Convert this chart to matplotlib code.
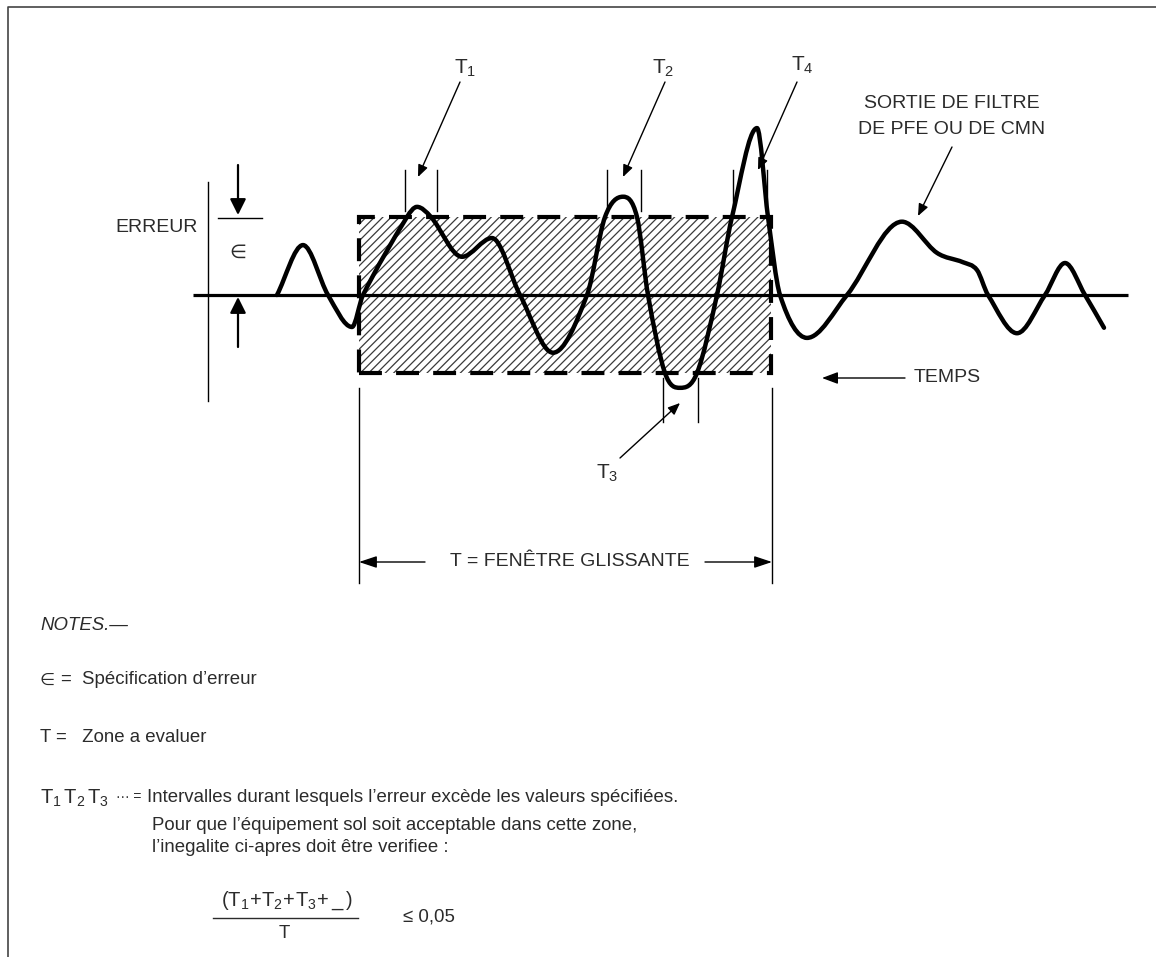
import numpy as np
import matplotlib
matplotlib.use("Agg")
import matplotlib.pyplot as plt
from matplotlib.path import Path
from matplotlib.patches import PathPatch, Rectangle

# ------------------------------------------
# fonts
# ------------------------------------------
plt.rcParams['font.family'] = ['Liberation Sans', 'DejaVu Sans']
plt.rcParams['mathtext.fontset'] = 'custom'
plt.rcParams['mathtext.rm'] = 'Liberation Sans'
plt.rcParams['mathtext.it'] = 'Liberation Sans:italic'
plt.rcParams['hatch.linewidth'] = 0.9
NOTE = ['Liberation Sans', 'DejaVu Sans']
TXT = '#2b2b2b'

# ------------------------------------------
# data : filter output (time, error in units of epsilon)
# ------------------------------------------
t_curve = [277, 303, 328, 352, 363, 407, 417, 431, 462, 492, 520, 553, 587,
           605, 623, 637, 648, 665, 680, 697, 717, 732, 757, 768, 780, 807,
           847, 902, 937, 963, 977, 988, 1017, 1045, 1065, 1085, 1104]
err_curve = [0.0, 0.64, 0.0, -0.41, 0.0, 1.0, 1.13, 1.0, 0.49, 0.73, 0.0, -0.74, 0.0,
             1.0, 1.26, 1.0, 0.0, -1.0, -1.19, -1.0, 0.0, 1.0, 2.14, 1.0, 0.0, -0.55,
             0.0, 0.94, 0.54, 0.42, 0.32, 0.0, -0.49, 0.0, 0.41, 0.0, -0.42]

eps = 1.0
window = [359, 771]          # sliding window T
baseline_t = [193, 1128]
# intervals where error exceeds epsilon
intervals = {'1': (405, 437), '2': (607, 641), '3': (663, 698), '4': (733, 767)}

# ------------------------------------------
# figure
# ------------------------------------------
W, H = 1156, 957
BASE_PX, EPS_PX = 295, 78
fig = plt.figure(figsize=(W / 100, H / 100), dpi=100)
ax = fig.add_axes([0, 0, 1, 1])
ax.set_xlim(0, W)
ax.set_ylim((BASE_PX - H) / EPS_PX, BASE_PX / EPS_PX)
ax.axis('off')
lay = fig.add_axes([0, 0, 1, 1], zorder=3)
lay.set_xlim(0, W)
lay.set_ylim(H, 0)
lay.axis('off')
lay.patch.set_alpha(0)

# hatched window +-eps
ax.add_patch(Rectangle((window[0], -eps), window[1] - window[0], 2 * eps,
                       facecolor='none', edgecolor='#3a3a3a', hatch='////', lw=0))
ax.add_patch(Rectangle((window[0], -eps), window[1] - window[0], 2 * eps,
                       fill=False, edgecolor='black', lw=3,
                       linestyle=(0, (5.5, 3.4))))

# zero line
ax.plot(baseline_t, [0, 0], color='black', lw=2.3, solid_capstyle='butt')

# smooth curve (cubic hermite in t, drawn as bezier path)
x = np.array(t_curve, float)
y = np.array(err_curve, float)
m = np.zeros_like(y)
for i in range(len(x)):
    if i == 0:
        m[i] = (y[1] - y[0]) / (x[1] - x[0])
    elif i == len(x) - 1:
        m[i] = (y[-1] - y[-2]) / (x[-1] - x[-2])
    else:
        d0 = (y[i] - y[i - 1]) / (x[i] - x[i - 1])
        d1 = (y[i + 1] - y[i]) / (x[i + 1] - x[i])
        m[i] = 0.0 if d0 * d1 < 0 else (y[i + 1] - y[i - 1]) / (x[i + 1] - x[i - 1])
verts = [(x[0], y[0])]
codes = [Path.MOVETO]
for i in range(len(x) - 1):
    h = x[i + 1] - x[i]
    verts += [(x[i] + h / 3, y[i] + m[i] * h / 3),
              (x[i + 1] - h / 3, y[i + 1] - m[i + 1] * h / 3),
              (x[i + 1], y[i + 1])]
    codes += [Path.CURVE4] * 3
ax.add_patch(PathPatch(Path(verts, codes), fill=False, lw=3.2,
                       edgecolor='black', capstyle='round', joinstyle='round', zorder=4))


def arrow(x0, y0, x1, y1, lw=1.0, ms=12, hl=0.6, hw=0.25):
    lay.annotate('', xy=(x1, y1), xytext=(x0, y0),
                 arrowprops=dict(arrowstyle=f'-|>,head_length={hl},head_width={hw}',
                                 lw=lw, color='black', shrinkA=0, shrinkB=0,
                                 mutation_scale=ms))


def vline(xx, y0, y1, lw=1.0):
    lay.plot([xx, xx], [y0, y1], color='black', lw=lw)


# border (top / left)
lay.plot([8, 8, W], [H, 7, 7], color='#444444', lw=1.2)

# error spec on the left
lay.text(157, 227, 'ERREUR', fontsize=14, color=TXT, ha='center', va='center')
vline(208, 182, 401)
arrow(238, 165, 238, 215, lw=1.6, ms=12, hl=0.8, hw=0.4)
lay.plot([218, 262], [218, 218], color='black', lw=1.0)
lay.text(238, 252, '∈', fontsize=14, color=TXT, ha='center', va='center',
         family=['DejaVu Sans'])
arrow(238, 347, 238, 297, lw=1.6, ms=12, hl=0.8, hw=0.4)

# interval ticks
for k, (a, b) in intervals.items():
    if k == '3':
        vline(a, 378, 422)
        vline(b, 378, 422)
    else:
        vline(a, 170, 211)
        vline(b, 170, 211)

# interval labels + leaders
lay.text(465, 68, r'$\mathrm{T}_1$', fontsize=15, color=TXT, ha='center', va='center')
arrow(460, 82, 418, 177)
lay.text(663, 68, r'$\mathrm{T}_2$', fontsize=15, color=TXT, ha='center', va='center')
arrow(665, 82, 623, 177)
lay.text(802, 65, r'$\mathrm{T}_4$', fontsize=15, color=TXT, ha='center', va='center')
arrow(797, 82, 758, 170)
lay.text(607, 473, r'$\mathrm{T}_3$', fontsize=15, color=TXT, ha='center', va='center')
arrow(620, 458, 680, 403)

# filter output label
lay.text(952, 104, 'SORTIE DE FILTRE', fontsize=14, color=TXT, ha='center', va='center')
lay.text(952, 130, 'DE PFE OU DE CMN', fontsize=14, color=TXT, ha='center', va='center')
arrow(952, 147, 918, 216)

# time
arrow(905, 378, 822, 378, ms=12, hl=0.8, hw=0.3)
lay.text(914, 378, 'TEMPS', fontsize=14, color=TXT, ha='left', va='center')

# sliding window dimension
vline(window[0], 388, 583)
vline(window[1] + 1, 388, 583)
arrow(425, 562, window[0], 562, ms=12, hl=0.9, hw=0.3)
arrow(705, 562, window[1] + 1, 562, ms=12, hl=0.9, hw=0.3)
lay.text(570, 562, 'T = FENÊTRE GLISSANTE', fontsize=14, color=TXT, ha='center', va='center')

# notes
FS = 13.4
lay.text(40, 625, 'NOTES.—', fontsize=FS, color=TXT, style='italic', family=NOTE,
         ha='left', va='center')
lay.text(40, 680, '∈', fontsize=12.5, color=TXT, family=['DejaVu Sans'], ha='left', va='center')
lay.text(61, 680, '=  Spécification d’erreur', fontsize=FS, color=TXT, family=NOTE,
         ha='left', va='center')
lay.text(40, 737, 'T =   Zone a evaluer', fontsize=FS, color=TXT, family=NOTE,
         ha='left', va='center')
lay.text(40, 798, r'$\mathrm{T}_1\,\mathrm{T}_2\,\mathrm{T}_3$', fontsize=14.5,
         color=TXT, ha='left', va='center')
lay.text(116, 797, '··· =', fontsize=10, color=TXT, family=NOTE, ha='left', va='center')
lay.text(147, 797, 'Intervalles durant lesquels l’erreur excède les valeurs spécifiées.',
         fontsize=FS, color=TXT, family=NOTE, ha='left', va='center')
lay.text(152, 825, 'Pour que l’équipement sol soit acceptable dans cette zone,',
         fontsize=FS, color=TXT, family=NOTE, ha='left', va='center')
lay.text(152, 847, 'l’inegalite ci-apres doit être verifiee :',
         fontsize=FS, color=TXT, family=NOTE, ha='left', va='center')
lay.text(287, 901, r'$(\mathrm{T}_1\!+\!\mathrm{T}_2\!+\!\mathrm{T}_3\!+\_\,)$', fontsize=14.5,
         color=TXT, ha='center', va='center')
lay.plot([213, 358], [918, 918], color=TXT, lw=1.0)
lay.text(284, 933, 'T', fontsize=FS, color=TXT, family=NOTE, ha='center', va='center')
lay.text(403, 917, '≤ 0,05', fontsize=FS, color=TXT, family=NOTE, ha='left', va='center')

fig.savefig('out.png', dpi=100, facecolor='white')
